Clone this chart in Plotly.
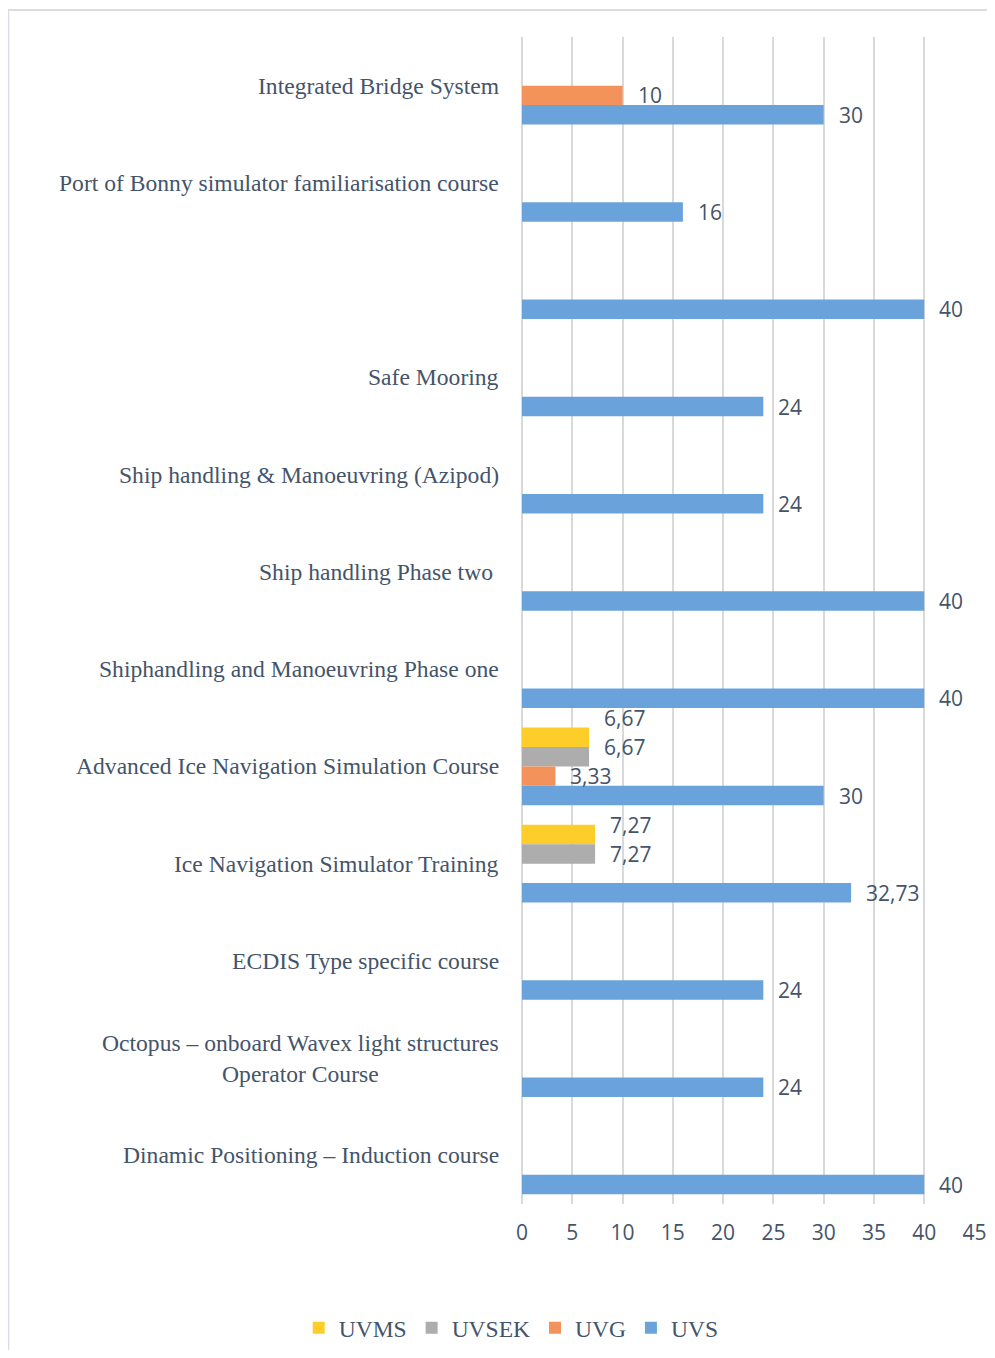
import plotly.graph_objects as go

# categories from top to bottom (third one has no label in the source)
categories = [
    "Integrated Bridge System",
    "Port of Bonny simulator familiarisation course",
    "",
    "Safe Mooring",
    "Ship handling & Manoeuvring (Azipod)",
    "Ship handling Phase two ",
    "Shiphandling and Manoeuvring Phase one",
    "Advanced Ice Navigation Simulation Course",
    "Ice Navigation Simulator Training",
    "ECDIS Type specific course",
    "Octopus – onboard Wavex light structures<br>Operator Course",
    "Dinamic Positioning – Induction course",
]

uvms = [None, None, None, None, None, None, None, 6.67, 7.27, None, None, None]
uvsek = [None, None, None, None, None, None, None, 6.67, 7.27, None, None, None]
uvg = [10, None, None, None, None, None, None, 3.33, None, None, None, None]
uvs = [30, 16, 40, 24, 24, 40, 40, 30, 32.73, 24, 24, 40]

series = [
    ("UVMS", uvms, "#FDCD2A"),
    ("UVSEK", uvsek, "#ADADAD"),
    ("UVG", uvg, "#F3925A"),
    ("UVS", uvs, "#6AA3DB"),
]

# unique keys for the category axis
keys = ["c%d" % i for i in range(len(categories))]

W, H = 979, 1342
ML, MR, MT, MB = 514, 12, 29, 146
XMAX = 45.05
band = (H - MT - MB) / len(keys)
bar_h = band * 0.8 / len(series)
px_per_unit = (W - ML - MR) / XMAX
VAL_FONT = 21
XSHIFT = 13


def fmt(v):
    # european decimal comma like the original
    s = ("%.2f" % v).rstrip("0").rstrip(".")
    return s.replace(".", ",")


fig = go.Figure()
for name, vals, col in series:
    fig.add_trace(go.Bar(
        y=keys, x=vals, name=name, orientation="h",
        marker=dict(color=col, line=dict(width=0)),
    ))

# value labels; a label is lifted when it would sit on the one below it
for ci, k in enumerate(keys):
    placed = []  # (offset, x0, x1) of labels already put, bottom first
    for si in range(len(series) - 1, -1, -1):
        v = series[si][1][ci]
        if v is None:
            continue
        s = fmt(v)
        x0 = v * px_per_unit + XSHIFT
        x1 = x0 + len(s) * 0.55 * VAL_FONT
        off = (si - 1.5) * bar_h  # px below category centre
        for poff, px0, px1 in placed:
            if x0 < px1 and px0 < x1 and abs(off - poff) < 29:
                off = poff - 29
        placed.append((off, x0, x1))
        fig.add_annotation(
            x=v, xref="x", y=k, yref="y", text=s,
            xanchor="left", xshift=XSHIFT, yshift=-off, showarrow=False,
            font=dict(family="Open Sans", size=VAL_FONT, color="#44546A"),
        )

# category labels, centred multi-line like the source
for k, lab in zip(keys, categories):
    if lab:
        fig.add_annotation(
            x=0, xref="paper", y=k, yref="y", text=lab,
            xanchor="right", xshift=-21, align="center", showarrow=False,
            font=dict(family="Liberation Serif", size=23.6, color="#44546A"),
        )

# outer chart border
fig.add_shape(type="rect", xref="paper", yref="paper",
              x0=-1.134, x1=1.2, y0=-0.2, y1=1.0231,
              line=dict(color="#D9DCE1", width=2), layer="below")

fig.update_layout(
    width=W, height=H,
    margin=dict(l=ML, r=MR, t=MT, b=MB),
    barmode="group", bargap=0.2, bargroupgap=0,
    plot_bgcolor="white", paper_bgcolor="white",
    showlegend=True,
    legend=dict(orientation="h", xref="container", yref="container",
                x=0.514, xanchor="center", y=0.0164, yanchor="middle",
                traceorder="normal", itemwidth=30, borderwidth=0,
                font=dict(family="Liberation Serif", size=23.5, color="#44546A")),
    xaxis=dict(range=[0, XMAX], dtick=5, tick0=0, showgrid=True,
               gridcolor="#D9D9D9", gridwidth=2, zeroline=True,
               zerolinecolor="#D9D9D9", zerolinewidth=2,
               tickfont=dict(family="Open Sans", size=21, color="#44546A"),
               ticks="", ticklabelstandoff=14, automargin=False,
               fixedrange=True),
    yaxis=dict(autorange="reversed", showticklabels=False, showgrid=False,
               zeroline=False, ticks="", automargin=False),
)

fig.write_html("out.html")
